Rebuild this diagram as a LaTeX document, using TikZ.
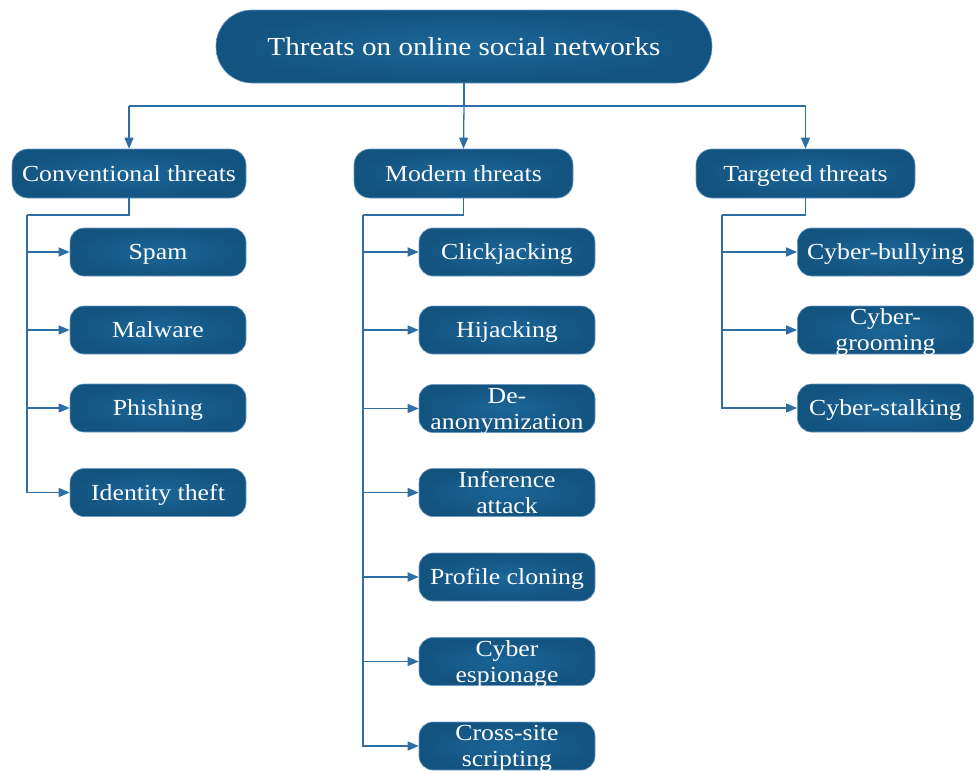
\documentclass[tikz,border=0pt]{standalone}
\usepackage{fontspec}
\setmainfont{Liberation Serif}[FakeStretch=1.12]
\usetikzlibrary{arrows.meta}
\definecolor{boxin}{RGB}{27,102,152}
\definecolor{boxout}{RGB}{19,83,128}
\definecolor{boxedge}{RGB}{110,155,195}
\definecolor{linec}{RGB}{46,110,165}
\tikzset{
  box/.style={shade, inner color=boxin, outer color=boxout, draw=boxedge, line width=0.6pt,
    text=white, align=center, inner sep=0pt},
  rootbox/.style={box, minimum width=496pt, minimum height=73pt, rounded corners=36pt,
    font=\fontsize{26}{30}\selectfont, text height=17pt, text depth=0pt},
  catbox/.style={box, minimum height=49pt, rounded corners=16pt,
    font=\fontsize{23}{26}\selectfont, text height=15pt, text depth=0pt},
  leafbox/.style={box, minimum width=176pt, minimum height=48pt, rounded corners=14pt,
    font=\fontsize{23}{26}\selectfont, text height=15pt, text depth=0pt},
  twoline/.style={text height=41pt, text depth=0pt},
  conn/.style={draw=linec, line width=1.3pt},
  arr/.style={conn, -{Triangle[length=11pt,width=9pt]}}
}
\begin{document}
\begin{tikzpicture}[x=1pt,y=-1pt]
\useasboundingbox (0,0) rectangle (980,771);
\node[rootbox] (root) at (464,46.5) {Threats on online social networks};
\node[catbox, minimum width=234pt] (conv) at (129,173.5) {Conventional threats};
\node[catbox, minimum width=219pt] (mod) at (463.5,173.5) {Modern threats};
\node[catbox, minimum width=219pt] (targ) at (805.5,173.5) {Targeted threats};
% conventional leaves
\node[leafbox] (spam) at (158,252) {Spam};
\node[leafbox] (malw) at (158,330) {Malware};
\node[leafbox] (phish) at (158,408) {Phishing};
\node[leafbox] (ident) at (158,492.5) {Identity theft};
% modern leaves
\node[leafbox] (click) at (507,252) {Clickjacking};
\node[leafbox] (hijack) at (507,330) {Hijacking};
\node[leafbox, twoline] (deanon) at (507,408.5) {De-\\anonymization};
\node[leafbox, twoline] (infer) at (507,492.5) {Inference\\attack};
\node[leafbox] (clone) at (507,577) {Profile cloning};
\node[leafbox, twoline] (espion) at (507,661.5) {Cyber\\espionage};
\node[leafbox, twoline] (xss) at (507,746) {Cross-site\\scripting};
% targeted leaves
\node[leafbox] (bully) at (885.5,252) {Cyber-bullying};
\node[leafbox, twoline] (groom) at (885.5,330) {Cyber-\\grooming};
\node[leafbox] (stalk) at (885.5,408) {Cyber-stalking};
% connectors top
\coordinate (bus) at (464,106);
\draw[conn] (root.south) -- (bus);
\draw[conn] (conv.north |- bus) -- (targ.north |- bus);
\draw[arr] (conv.north |- bus) -- (conv.north);
\draw[arr] (bus) -- (mod.north);
\draw[arr] (targ.north |- bus) -- (targ.north);
% conventional spine
\coordinate (cs) at (27,215);
\draw[conn] (conv.south) |- (cs);
\foreach \n in {spam,malw,phish,ident} \draw[arr] (cs) |- (\n.west);
% modern spine
\coordinate (ms) at (363,215);
\draw[conn] (mod.south) |- (ms);
\foreach \n in {click,hijack,deanon,infer,clone,espion,xss} \draw[arr] (ms) |- (\n.west);
% targeted spine
\coordinate (ts) at (722,215);
\draw[conn] (targ.south) |- (ts);
\foreach \n in {bully,groom,stalk} \draw[arr] (ts) |- (\n.west);
\end{tikzpicture}
\end{document}
